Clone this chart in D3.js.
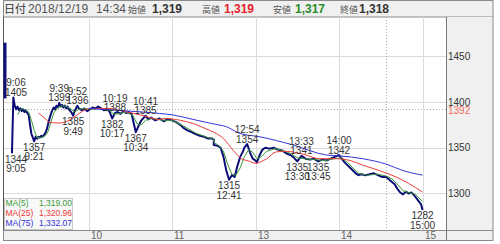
<!DOCTYPE html>
<meta charset="utf-8">
<style>
body { margin: 0; background: #fff; }
svg { display: block; font-family: "Liberation Sans", Arial, sans-serif; }
.grid line { stroke: #dcdcdc; stroke-width: 1; }
.ann { font-size: 10px; fill: #333; text-anchor: middle; }
.yl { font-size: 10px; fill: #333; }
.xl { font-size: 10px; fill: #666; }
.leg { font-size: 8.5px; }
</style>
<svg id="chart" width="500" height="244"></svg>
<script src="https://cdnjs.cloudflare.com/ajax/libs/d3/7.8.5/d3.min.js"></script>
<script>

// ---- data ----
var price = [
  ["9:05",1344],["9:06",1405],["9:07",1396],["9:08",1392],["9:09",1395],["9:10",1391],
  ["9:11",1393],["9:12",1390],["9:13",1392],["9:14",1389],["9:15",1391],["9:16",1388],
  ["9:17",1386],["9:18",1375],["9:19",1365],["9:20",1361],["9:21",1357],["9:22",1362],
  ["9:23",1360],["9:24",1362],["9:25",1361],["9:26",1363],["9:27",1362],["9:28",1364],
  ["9:29",1366],["9:30",1370],["9:31",1376],["9:32",1382],["9:33",1387],["9:34",1391],
  ["9:35",1394],["9:36",1392],["9:37",1396],["9:38",1394],["9:39",1399],["9:40",1395],
  ["9:41",1397],["9:42",1394],["9:43",1396],["9:44",1393],["9:45",1395],["9:46",1392],
  ["9:47",1390],["9:48",1388],["9:49",1385],["9:50",1390],["9:51",1393],["9:52",1396],
  ["9:53",1393],["9:55",1391],["9:57",1393],["9:59",1390],["10:01",1392],["10:03",1394],
  ["10:05",1393],["10:07",1395],["10:09",1393],["10:11",1391],["10:13",1392],["10:15",1390],
  ["10:17",1382],["10:19",1388],["10:21",1389],["10:23",1387],["10:25",1390],["10:27",1388],
  ["10:29",1389],["10:31",1387],["10:32",1380],["10:34",1367],["10:36",1374],["10:38",1380],
  ["10:41",1385],["10:43",1381],["10:45",1383],["10:48",1380],["10:51",1382],["10:54",1379],
  ["10:57",1381],["11:00",1380],["11:03",1378],["11:06",1375],["11:08",1372],["11:11",1369],
  ["11:14",1367],["11:17",1365],["11:20",1363],["11:23",1362],["11:26",1360],["11:29",1360],
  ["11:30",1359],
  ["12:30",1353],["12:33",1352],["12:35",1350],["12:37",1340],["12:39",1325],["12:41",1315],
  ["12:43",1320],["12:45",1318],["12:47",1330],["12:49",1340],["12:51",1346],["12:52",1350],
  ["12:54",1354],["12:56",1345],["12:58",1338],["13:00",1336],["13:01",1334],["13:03",1342],
  ["13:05",1348],["13:07",1350],["13:10",1349],["13:13",1350],["13:16",1348],["13:19",1347],
  ["13:22",1344],["13:25",1342],["13:27",1340],["13:30",1335],["13:33",1341],["13:36",1338],
  ["13:39",1337],["13:42",1338],["13:45",1335],["13:48",1337],["13:51",1336],["13:54",1338],
  ["13:57",1340],["14:00",1342],["14:02",1338],["14:04",1334],["14:06",1331],["14:08",1328],
  ["14:10",1325],["14:12",1322],["14:14",1320],["14:16",1321],["14:19",1320],["14:22",1321],
  ["14:25",1322],["14:28",1320],["14:31",1318],["14:34",1318],["14:37",1314],["14:40",1310],
  ["14:42",1305],["14:44",1301],["14:46",1299],["14:48",1302],["14:50",1300],["14:52",1301],
  ["14:54",1298],["14:56",1294],["14:58",1290],["14:59",1288],["15:00",1282]
];

var ma5 = [
  ["9:09",1386],["9:12",1393],["9:15",1391],["9:17",1389],["9:19",1380],["9:21",1369],
  ["9:23",1361],["9:26",1361],["9:29",1363],["9:31",1368],["9:33",1378],["9:35",1388],
  ["9:38",1394],["9:41",1396],["9:44",1395],["9:47",1393],["9:50",1389],["9:53",1392],
  ["9:57",1393],["10:03",1392],["10:09",1393],["10:15",1391],["10:18",1387],["10:21",1387],
  ["10:27",1389],["10:32",1385],["10:35",1376],["10:38",1375],["10:41",1380],["10:45",1382],
  ["10:54",1380],["11:00",1380],["11:08",1374],["11:17",1366],["11:26",1361],["11:30",1360],
  ["12:30",1356],["12:34",1352],["12:37",1346],["12:40",1332],["12:43",1321],["12:46",1320],
  ["12:49",1328],["12:52",1340],["12:55",1348],["12:58",1345],["13:01",1338],["13:04",1340],
  ["13:08",1346],["13:14",1349],["13:20",1347],["13:26",1343],["13:30",1339],["13:35",1338],
  ["13:42",1337],["13:50",1336],["13:57",1338],["14:02",1339],["14:06",1334],["14:10",1328],
  ["14:14",1322],["14:20",1320],["14:28",1321],["14:34",1319],["14:38",1316],["14:42",1310],
  ["14:46",1303],["14:50",1301],["14:55",1299],["15:00",1291]
];

var ma25 = [
  ["9:24",1388],["9:28",1383],["9:32",1378],["9:38",1377],["9:43",1378],["9:50",1384],
  ["9:57",1391],["10:03",1393],["10:15",1393],["10:25",1390],["10:37",1386],["10:51",1381],
  ["10:55",1382],["11:06",1380],["11:15",1376.5],["11:27",1369],["11:30",1367],
  ["12:37",1360],["12:44",1347],["12:50",1338],["12:55",1335.5],["13:00",1333],["13:08",1338],
  ["13:15",1345.5],["13:22",1346],["13:34",1343],["13:46",1338],["13:58",1338],["14:08",1336],
  ["14:17",1331],["14:29",1325],["14:41",1318],["14:50",1311],["15:00",1301.5]
];

var ma75 = [
  ["10:00",1393],["10:30",1390],["10:51",1387.5],["11:00",1386],["11:15",1381],["11:30",1376],
  ["12:39",1373],["12:49",1365.5],["13:03",1362],["13:27",1353],["13:51",1342],["14:01",1341],
  ["14:17",1338],["14:34",1332],["14:46",1325],["15:00",1320]
];

// highs put time above price, lows put price above time
var notes = [
  ["9:06",1405,"hi"],["9:05",1344,"lo"],["9:21",1357,"lo"],["9:39",1399,"hi"],
  ["9:52",1396,"hi"],["9:49",1385,"lo"],["10:19",1388,"hi"],["10:17",1382,"lo"],
  ["10:41",1385,"hi"],["10:34",1367,"lo"],["12:41",1315,"lo"],["12:54",1354,"hi"],
  ["13:33",1341,"hi"],["13:30",1335,"lo"],["13:45",1335,"lo"],["14:00",1342,"hi"],
  ["15:00",1282,"lo"]
];

var preOpen = [1404, 1465];          // dark bar at the left edge
var priceTicks = [1300, 1350, 1400, 1450];
var hourTicks = ["10:00", "11:00", "13:00", "14:00", "15:00"];
var hourLabels = ["10", "11", "13", "14", "15"];
var cursorTime = "14:34";
var cursorPrice = 1392;

var legendNames = ["MA(5)", "MA(25)", "MA(75)"];
var legendValues = ["1,319.00", "1,320.96", "1,332.07"];
var legendColors = ["#3a9a3a", "#ee3a3a", "#3434d8"];

// ---- scales ----
// trading minutes from 9:00, lunch break (11:30-12:30) squeezed out
function tm(s) {
  var p = s.split(":"), m = (+p[0] - 9) * 60 + (+p[1]);
  return m >= 210 ? m - 60 : m;
}

var svg = d3.select("#chart");
var L = 4, R = 446, T = 17, B = 230;

var x = d3.scaleLinear().domain([0, 300]).range([5, 422.5]);
var y = d3.scaleLinear().domain([1260, 1493]).range([B, T]);

// frame / panels
svg.append("rect").attr("x", 3.5).attr("y", 0.5).attr("width", 489.5).attr("height", 16.5)
  .attr("fill", "#f0f0f0").attr("stroke", "#8a8a8a");
svg.append("rect").attr("x", R + 0.5).attr("y", T).attr("width", 46.5).attr("height", B - T)
  .attr("fill", "#f0f0f0");
svg.append("rect").attr("x", 3.5).attr("y", B + 0.5).attr("width", 489.5).attr("height", 10)
  .attr("fill", "#f0f0f0").attr("stroke", "#8a8a8a");
svg.append("line").attr("x1", R + 0.5).attr("x2", R + 0.5).attr("y1", T).attr("y2", B + 11)
  .attr("stroke", "#777");
svg.append("line").attr("x1", 3.5).attr("x2", 3.5).attr("y1", T).attr("y2", B)
  .attr("stroke", "#555");
svg.append("line").attr("x1", 493).attr("x2", 493).attr("y1", T).attr("y2", B)
  .attr("stroke", "#8a8a8a");

// grid
var grid = svg.append("g").attr("class", "grid");
grid.selectAll(".h").data(priceTicks).enter().append("line")
  .attr("x1", L).attr("x2", R)
  .attr("y1", function(d) { return Math.round(y(d)) + 0.5; })
  .attr("y2", function(d) { return Math.round(y(d)) + 0.5; });
grid.selectAll(".v").data(hourTicks).enter().append("line")
  .attr("y1", T).attr("y2", B)
  .attr("x1", function(d) { return Math.round(x(tm(d))) + 0.5; })
  .attr("x2", function(d) { return Math.round(x(tm(d))) + 0.5; });

// crosshair
svg.append("line")
  .attr("x1", Math.round(x(tm(cursorTime))) + 0.5).attr("x2", Math.round(x(tm(cursorTime))) + 0.5)
  .attr("y1", T).attr("y2", B)
  .attr("stroke", "#aaa").attr("stroke-dasharray", "1,2");
svg.append("line")
  .attr("x1", L).attr("x2", R)
  .attr("y1", Math.round(y(cursorPrice)) + 0.5).attr("y2", Math.round(y(cursorPrice)) + 0.5)
  .attr("stroke", "#aaa").attr("stroke-dasharray", "1,2");

// axis labels
svg.selectAll(".yl").data(priceTicks).enter().append("text")
  .attr("class", "yl")
  .attr("x", R + 2).attr("y", function(d) { return y(d) + 3.5; })
  .text(function(d) { return d; });
svg.append("text").attr("class", "yl").attr("x", R + 2).attr("y", y(cursorPrice) + 5)
  .style("fill", "#f06a5a").text(cursorPrice);

svg.selectAll(".xl").data(hourTicks).enter().append("text")
  .attr("class", "xl")
  .attr("x", function(d) { return Math.round(x(tm(d))) + 2; })
  .attr("y", B + 8.5)
  .text(function(d, i) { return hourLabels[i]; });

// lines
var line = d3.line()
  .x(function(d) { return x(tm(d[0])); })
  .y(function(d) { return y(d[1]); });
var smooth = d3.line()
  .x(function(d) { return x(tm(d[0])); })
  .y(function(d) { return y(d[1]); })
  .curve(d3.curveMonotoneX);

svg.append("line")
  .attr("x1", x(0)).attr("x2", x(0))
  .attr("y1", y(preOpen[0])).attr("y2", y(preOpen[1]))
  .attr("stroke", "#10107a").attr("stroke-width", 3);

svg.append("path").datum(price).attr("d", line)
  .attr("fill", "none").attr("stroke", "#0c0c78").attr("stroke-width", 2)
  .attr("stroke-linejoin", "round");
svg.append("path").datum(ma5).attr("d", line)
  .attr("fill", "none").attr("stroke", legendColors[0]).attr("stroke-width", 1);
svg.append("path").datum(ma25).attr("d", smooth)
  .attr("fill", "none").attr("stroke", legendColors[1]).attr("stroke-width", 1);
svg.append("path").datum(ma75).attr("d", smooth)
  .attr("fill", "none").attr("stroke", legendColors[2]).attr("stroke-width", 1);

// high / low annotations
var ann = svg.selectAll(".annG").data(notes).enter().append("g");
ann.append("text").attr("class", "ann")
  .attr("x", function(d) { return Math.max(x(tm(d[0])), 16); })
  .attr("y", function(d) { return d[2] == "hi" ? y(d[1]) - 11 : y(d[1]) + 9.5; })
  .text(function(d) { return d[2] == "hi" ? d[0] : d[1]; });
ann.append("text").attr("class", "ann")
  .attr("x", function(d) { return Math.max(x(tm(d[0])), 16); })
  .attr("y", function(d) { return d[2] == "hi" ? y(d[1]) - 1.5 : y(d[1]) + 19; })
  .text(function(d) { return d[2] == "hi" ? d[1] : d[0]; });

// MA legend box
var leg = svg.append("g");
leg.append("rect").attr("x", 4.5).attr("y", 198.5).attr("width", 68).attr("height", 31)
  .attr("fill", "#f7f7f7").attr("fill-opacity", 0.9).attr("stroke", "#c8c8c8");
leg.selectAll(".n").data(legendNames).enter().append("text")
  .attr("class", "leg").attr("x", 5.5)
  .attr("y", function(d, i) { return 206 + i * 10.2; })
  .style("fill", function(d, i) { return legendColors[i]; })
  .text(function(d) { return d; });
leg.selectAll(".v").data(legendValues).enter().append("text")
  .attr("class", "leg").attr("x", 72).attr("text-anchor", "end")
  .attr("y", function(d, i) { return 206 + i * 10.2; })
  .style("fill", function(d, i) { return legendColors[i]; })
  .text(function(d) { return d; });

// header
var head = [
  {t: "日付", x: 4, size: 11, fill: "#333", w: "normal"},
  {t: "2018/12/19", x: 28, size: 12, fill: "#555", w: "normal"},
  {t: "14:34", x: 96, size: 12, fill: "#555", w: "normal"},
  {t: "始値", x: 128, size: 9, fill: "#555", w: "normal"},
  {t: "1,319", x: 152, size: 12, fill: "#333", w: "bold"},
  {t: "高値", x: 202, size: 9, fill: "#555", w: "normal"},
  {t: "1,319", x: 224, size: 12, fill: "#e8202a", w: "bold"},
  {t: "安値", x: 273, size: 9, fill: "#555", w: "normal"},
  {t: "1,317", x: 295, size: 12, fill: "#2a8a2a", w: "bold"},
  {t: "終値", x: 340, size: 9, fill: "#555", w: "normal"},
  {t: "1,318", x: 359, size: 12, fill: "#333", w: "bold"}
];
svg.selectAll(".hd").data(head).enter().append("text")
  .attr("x", function(d) { return d.x; })
  .attr("y", 13)
  .style("font-size", function(d) { return d.size + "px"; })
  .style("font-weight", function(d) { return d.w; })
  .style("fill", function(d) { return d.fill; })
  .style("font-family", function(d) { return /[^\x00-\x7f]/.test(d.t) ? "'Noto Sans CJK JP', sans-serif" : null; })
  .text(function(d) { return d.t; });

</script>
